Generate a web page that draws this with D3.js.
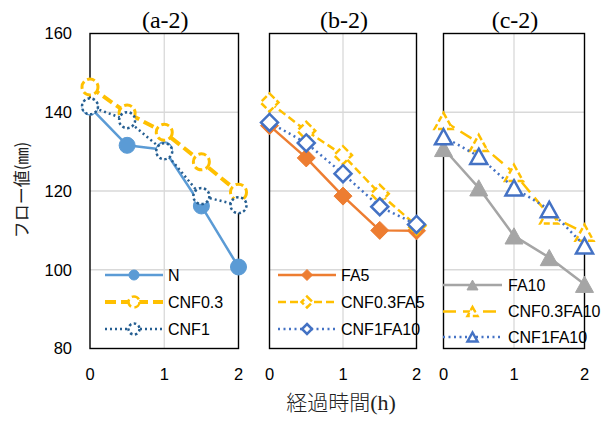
<!DOCTYPE html>
<html><head><meta charset="utf-8">
<script src="https://cdn.jsdelivr.net/npm/d3@7"></script>
<style>body{margin:0;background:#fff}svg{display:block}</style>
</head><body>
<svg id="c" width="603" height="421"></svg>
<script>
// ---- data ----
const times = [0, 0.5, 1, 1.5, 2];
const xTicks = [0, 1, 2];
const yTicks = [80, 100, 120, 140, 160];
const panelTitles = ["(a-2)", "(b-2)", "(c-2)"];
const xTitleMain = "経過時間";
const xTitleUnit = "(h)";
const yTitle = "フロー値(㎜)";

const seriesNamesA = ["N", "CNF0.3", "CNF1"];
const nVals      = [141.3, 131.6, 130.5, 116.2, 100.7];
const cnf03Vals  = [146.4, 139.8, 134.9, 127.4, 119.7];
const cnf1Vals   = [141.5, 138.0, 130.1, 118.7, 116.4];

const seriesNamesB = ["FA5", "CNF0.3FA5", "CNF1FA10"];
const fa5Vals      = [136.6, 128.4, 118.7, 110.0, 109.9];
const cnf03fa5Vals = [142.5, 135.3, 129.1, 119.3, 111.2];
const cnf1fa10bVals= [137.4, 132.2, 124.4, 116.0, 111.5];

const seriesNamesC = ["FA10", "CNF0.3FA10", "CNF1FA10"];
const fa10Vals      = [130.8, 120.8, 108.6, 103.1, 96.3];
const cnf03fa10Vals = [137.8, 132.2, 124.6, 113.8, 109.4];
const cnf1fa10cVals = [133.8, 128.8, 120.8, 115.3, 106.1];

// ---- layout / style ----
const svg = d3.select("#c");
const y = d3.scaleLinear().domain([80, 160]).range([348.5, 33.5]);
const GRID = "#d9d9d9";
const SANS = "'Liberation Sans', Arial, sans-serif";
const SERIF = "'Liberation Serif', 'Times New Roman', serif";

// custom symbols centred on bbox
const triSym = { draw(ctx, size) { const s = Math.sqrt(size); const h = s * 0.9;
  ctx.moveTo(0, -h/2); ctx.lineTo(s/2, h/2); ctx.lineTo(-s/2, h/2); ctx.closePath(); } };
const diaSym = { draw(ctx, size) { const r = Math.sqrt(size) / 2;
  ctx.moveTo(0, -r); ctx.lineTo(r, 0); ctx.lineTo(0, r); ctx.lineTo(-r, 0); ctx.closePath(); } };
const cirSym = { draw(ctx, size) { const r = Math.sqrt(size) / 2;
  ctx.moveTo(r, 0); ctx.arc(0, 0, r, 0, 2 * Math.PI); } };

const panels = [
  { x0: 90, x1: 238.5, title: panelTitles[0],
    legend: { l0: 105, l1: 163, tx: 168, rows: [275, 302, 329] },
    series: [
      { name: seriesNamesA[0], vals: nVals, color: "#5B9BD5", w: 2.5, dash: null, sym: cirSym, size: 16, lsize: 10, filled: true },
      { name: seriesNamesA[1], vals: cnf03Vals, color: "#FFC000", w: 4, dash: "11,5", sym: cirSym, size: 16, lsize: 11, filled: false, mdash: "8,3.5", mw: 3 },
      { name: seriesNamesA[2], vals: cnf1Vals, color: "#255E91", w: 2.5, dash: "2,3", sym: cirSym, size: 16, lsize: 11, filled: false, mdash: "2.5,2.5", mw: 2.5 }
    ] },
  { x0: 269.5, x1: 416.5, title: panelTitles[1],
    legend: { l0: 278, l1: 336, tx: 341, rows: [275, 302, 329] },
    series: [
      { name: seriesNamesB[0], vals: fa5Vals, color: "#ED7D31", w: 2.5, dash: null, sym: diaSym, size: 18, lsize: 11, filled: true },
      { name: seriesNamesB[1], vals: cnf03fa5Vals, color: "#FFC000", w: 2.5, dash: "8,4", sym: diaSym, size: 18, lsize: 11, filled: false, mdash: "7,3", mw: 2.5 },
      { name: seriesNamesB[2], vals: cnf1fa10bVals, color: "#4472C4", w: 2.5, dash: "2,3.5", sym: diaSym, size: 17, lsize: 10, filled: false, mdash: null, mw: 2.5 }
    ] },
  { x0: 443.5, x1: 584.5, title: panelTitles[2],
    legend: { l0: 443, l1: 502, tx: 508, rows: [285, 311.5, 337] },
    series: [
      { name: seriesNamesC[0], vals: fa10Vals, color: "#A5A5A5", w: 2.5, dash: null, sym: triSym, size: 18, lsize: 11, filled: true },
      { name: seriesNamesC[1], vals: cnf03fa10Vals, color: "#FFC000", w: 2.5, dash: "13,7", sym: triSym, size: 18, lsize: 10, filled: false, mdash: "6,3", mw: 2.5 },
      { name: seriesNamesC[2], vals: cnf1fa10cVals, color: "#4472C4", w: 2.5, dash: "2,3.5", sym: triSym, size: 17, lsize: 10, filled: false, mdash: null, mw: 2.5 }
    ] }
];

function marker(g, s, size, cx, cy) {
  const p = d3.symbol().type(s.sym).size(size * size)();
  const m = g.append("path").attr("d", p).attr("transform", `translate(${cx},${cy})`)
    .attr("stroke", s.color).attr("stroke-linejoin", "miter");
  if (s.filled) m.attr("fill", s.color).attr("stroke-width", 1);
  else {
    m.attr("fill", "#fff").attr("stroke-width", s.mw);
    if (s.mdash) m.attr("stroke-dasharray", s.mdash);
  }
}

panels.forEach(P => {
  const x = d3.scaleLinear().domain([0, 2]).range([P.x0, P.x1]);
  const g = svg.append("g");
  // grid
  g.selectAll(".hg").data(yTicks.filter(t => t > 80 && t < 160)).enter().append("line")
    .attr("x1", P.x0).attr("x2", P.x1).attr("y1", d => y(d)).attr("y2", d => y(d))
    .attr("stroke", GRID).attr("stroke-width", 1.3);
  g.append("line").attr("x1", x(1)).attr("x2", x(1)).attr("y1", y(160)).attr("y2", y(80))
    .attr("stroke", GRID).attr("stroke-width", 1.3);
  // border
  g.append("rect").attr("x", P.x0).attr("y", y(160)).attr("width", P.x1 - P.x0).attr("height", y(80) - y(160))
    .attr("fill", "none").attr("stroke", "#000").attr("stroke-width", 1.4);
  // x ticks
  g.selectAll(".xt").data(xTicks).enter().append("text")
    .attr("x", d => x(d)).attr("y", 374).attr("dy", "0.35em").attr("text-anchor", "middle")
    .attr("font-family", SANS).attr("font-size", 16.5).attr("fill", "#000").text(d => d);
  // title
  g.append("text").attr("x", (P.x0 + P.x1) / 2 + 1).attr("y", 28).attr("text-anchor", "middle")
    .attr("font-family", SERIF).attr("font-size", 24).text(P.title);
  // legend
  P.series.forEach((s, i) => {
    const ry = P.legend.rows[i];
    const ln = g.append("line").attr("x1", P.legend.l0).attr("x2", P.legend.l1).attr("y1", ry).attr("y2", ry)
      .attr("stroke", s.color).attr("stroke-width", s.w);
    if (s.dash) ln.attr("stroke-dasharray", s.dash);
    marker(g, Object.assign({}, s, { mw: Math.min(s.mw || 2, 2.5) }), s.lsize, (P.legend.l0 + P.legend.l1) / 2, ry);
    g.append("text").attr("x", P.legend.tx).attr("y", ry).attr("dy", "0.35em")
      .attr("font-family", SANS).attr("font-size", 16).attr("fill", "#000").text(s.name);
  });
  // series
  P.series.forEach(s => {
    const line = d3.line().x((d, i) => x(times[i])).y(d => y(d));
    const pth = g.append("path").attr("d", line(s.vals)).attr("fill", "none")
      .attr("stroke", s.color).attr("stroke-width", s.w).attr("stroke-linejoin", "round");
    if (s.dash) pth.attr("stroke-dasharray", s.dash);
    s.vals.forEach((v, i) => marker(g, s, s.size, x(times[i]), y(v)));
  });
});

// y axis ticks
svg.selectAll(".yt").data(yTicks).enter().append("text")
  .attr("x", 72).attr("y", d => y(d)).attr("dy", "0.35em").attr("text-anchor", "end")
  .attr("font-family", SANS).attr("font-size", 16.5).attr("fill", "#000").text(d => d);
// axis titles
svg.append("text").attr("transform", "translate(22,190) rotate(-90)").attr("text-anchor", "middle")
  .attr("dy", "0.35em").attr("font-family", "'Noto Sans CJK JP', sans-serif").attr("font-size", 17)
  .attr("fill", "#222").text(yTitle);
const xt = svg.append("text").attr("x", 341).attr("y", 403).attr("dy", "0.35em").attr("text-anchor", "middle")
  .attr("font-size", 21).attr("fill", "#222");
xt.append("tspan").attr("font-family", "'Noto Sans CJK JP', sans-serif").attr("font-weight", 300).text(xTitleMain);
xt.append("tspan").attr("font-family", SERIF).attr("font-size", 22).text(xTitleUnit);
</script>
</body></html>
